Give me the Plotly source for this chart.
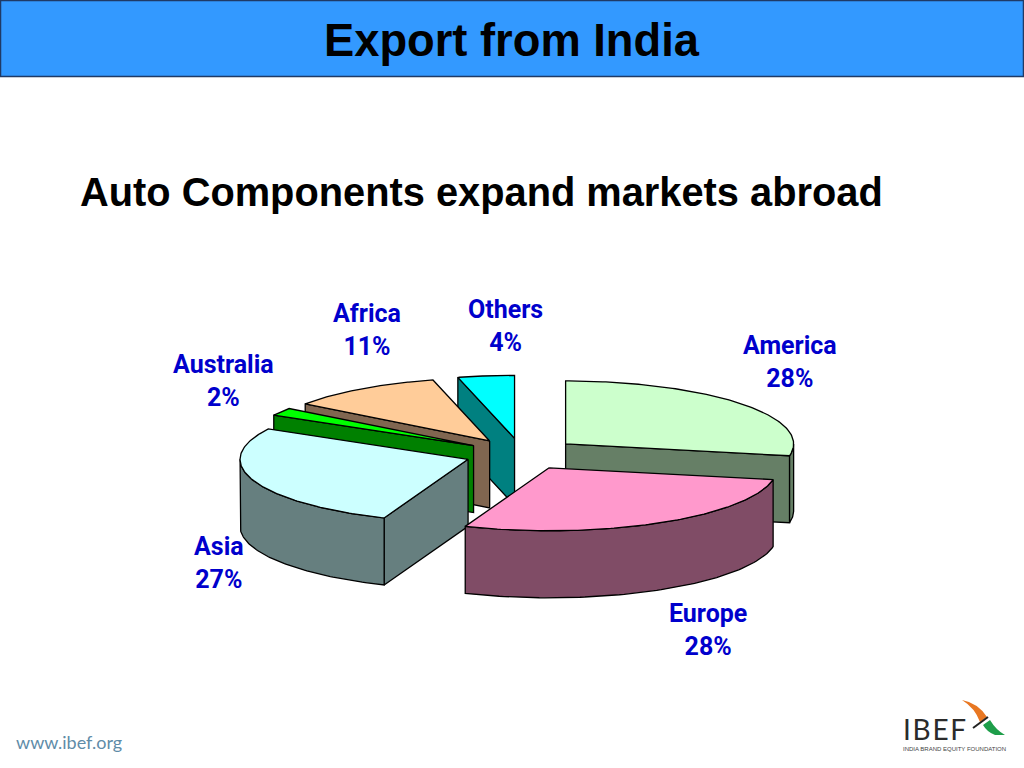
import numpy as np
import plotly.graph_objects as go

# ---- data ----
categories = ["America", "Europe", "Asia", "Australia", "Africa", "Others"]
shares = [28, 28, 27, 2, 11, 4]
pull = 0.25
top_colors = ["#CCFFCC", "#FF99CC", "#CCFFFF", "#00FF00", "#FFCC99", "#00FFFF"]
side_colors = ["#667F66", "#804C66", "#667F7F", "#008000", "#806650", "#008080"]
draw_order = ["Others", "Africa", "Australia", "Asia", "America", "Europe"]
label_xy = {"America": (790, 362), "Europe": (708, 630), "Asia": (219, 563),
            "Australia": (223, 381), "Africa": (367, 330), "Others": (505, 326)}

title_text = "Export from India"
subtitle_text = "Auto Components expand markets abroad"

# ---- projection of the tilted pie on the page axes ----
CX, CY, RX, RY, DEPTH = 521.7, 454, 228, 63, 67
total = sum(shares)
starts = np.cumsum([0] + shares[:-1]) / total * 2 * np.pi
ends = np.cumsum(shares) / total * 2 * np.pi

fig = go.Figure()


def add_poly(xs, ys, color):
    fig.add_trace(go.Scatter(x=list(xs), y=list(ys), mode="lines", fill="toself",
                             fillcolor=color, line=dict(color="#000000", width=1.3),
                             hoverinfo="skip", showlegend=False))


for name in draw_order:
    i = categories.index(name)
    a0, a1 = starts[i], ends[i]
    mid = (a0 + a1) / 2
    ox = CX + pull * RX * np.sin(mid)
    oy = CY - pull * RY * np.cos(mid)
    px = lambda a: ox + RX * np.sin(a)
    py = lambda a: oy - RY * np.cos(a)
    # radial walls facing the viewer
    if np.pi < a0 % (2 * np.pi) < 2 * np.pi:
        add_poly([ox, px(a0), px(a0), ox, ox],
                 [oy, py(a0), py(a0) + DEPTH, oy + DEPTH, oy], side_colors[i])
    if 0 < a1 < np.pi:
        add_poly([ox, px(a1), px(a1), ox, ox],
                 [oy, py(a1), py(a1) + DEPTH, oy + DEPTH, oy], side_colors[i])
    # outer rim on the front half
    lo, hi = max(a0, np.pi / 2), min(a1, 3 * np.pi / 2)
    if hi > lo:
        arc = np.linspace(lo, hi, 80)
        add_poly(np.r_[px(arc), px(arc)[::-1], px(arc)[0]],
                 np.r_[py(arc), py(arc)[::-1] + DEPTH, py(arc)[0]], side_colors[i])
    # top face
    arc = np.linspace(a0, a1, 120)
    add_poly(np.r_[ox, px(arc), ox], np.r_[oy, py(arc), oy], top_colors[i])

annotations = [
    dict(x=512, y=40, text=f"<b>{title_text}</b>", showarrow=False, xref="x", yref="y",
         font=dict(family="Liberation Sans", size=45.3, color="#000000")),
    dict(x=481, y=192, text=f"<b>{subtitle_text}</b>", showarrow=False, xref="x", yref="y",
         font=dict(family="Liberation Sans", size=39.8, color="#000000")),
    dict(x=68.5, y=742, text="www.ibef.org", showarrow=False, xref="x", yref="y",
         font=dict(family="Lato", size=18, color="#5F8CA8")),
    dict(x=934, y=729, text="I\u200aB\u200aE\u200aF", showarrow=False, xref="x", yref="y",
         font=dict(family="Lato", size=28, color="#2B2B2B")),
    dict(x=954.5, y=748.5, text="INDIA BRAND EQUITY FOUNDATION", showarrow=False, xref="x", yref="y",
         font=dict(family="Liberation Sans", size=6, color="#444444")),
]
for name, share in zip(categories, shares):
    x, y = label_xy[name]
    annotations.append(dict(x=x, y=y, text=f"<b>{name}<br>{share}%</b>", showarrow=False,
                            xref="x", yref="y", align="center",
                            font=dict(family="Roboto", size=25, color="#0000CC")))

shapes = [
    dict(type="rect", x0=0.5, x1=1023.5, y0=0.5, y1=76.5, xref="x", yref="y", layer="below",
         fillcolor="#3399FF", line=dict(color="#1F3A66", width=1.5)),
    dict(type="path", xref="x", yref="y", line=dict(width=0), fillcolor="#E87722",
         path="M 962 700 Q 978 703 987 717 L 980 722 Q 975 708 962 700 Z"),
    dict(type="path", xref="x", yref="y", line=dict(width=0), fillcolor="#1E9E4A",
         path="M 990 720 Q 996 730 1005 735 L 995 735 Q 987 732 983 725 Z"),
    dict(type="path", xref="x", yref="y", line=dict(color="#222222", width=2),
         path="M 973 728 L 988 717"),
]

fig.update_layout(
    width=1024, height=768, margin=dict(l=0, r=0, t=0, b=0),
    paper_bgcolor="#FFFFFF", plot_bgcolor="#FFFFFF", showlegend=False,
    xaxis=dict(range=[0, 1024], visible=False, domain=[0, 1], fixedrange=True),
    yaxis=dict(range=[768, 0], visible=False, domain=[0, 1], fixedrange=True),
    annotations=annotations, shapes=shapes,
)

fig.write_html("out.html", config={"displayModeBar": False},
               post_script="document.body.style.margin='0';document.body.style.overflow='hidden';")
